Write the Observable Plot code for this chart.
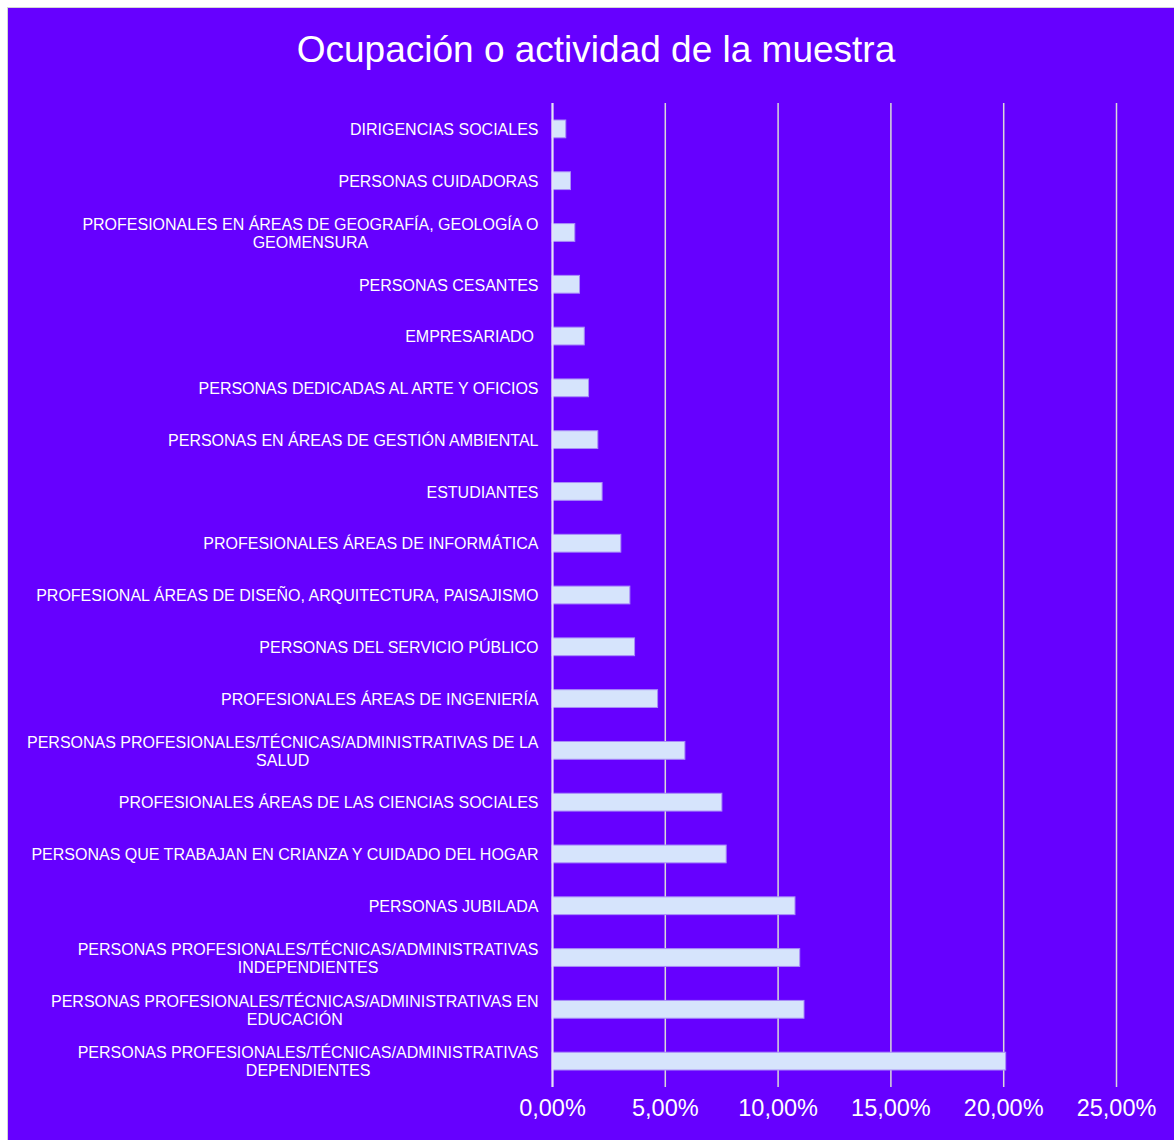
<!DOCTYPE html>
<html><head><meta charset="utf-8">
<script src="https://cdn.jsdelivr.net/npm/d3@7"></script>
<script src="https://cdn.jsdelivr.net/npm/@observablehq/plot@0.6"></script>
<style>
html,body{margin:0;padding:0;background:#fff;width:1174px;height:1140px;overflow:hidden;font-family:"Liberation Sans",Arial,sans-serif;}
#frame{position:absolute;left:7px;top:7px;width:1167px;height:1133px;background:#6600FF;border-left:1px solid #d4d4d4;border-top:1px solid #d4d4d4;box-sizing:border-box;}
#title{position:absolute;left:9px;width:1174px;top:31px;text-align:center;color:#fff;font-size:37px;line-height:37px;white-space:nowrap;}
#chart{position:absolute;left:0;top:80px;}
#chart svg text{white-space:pre;}
</style></head><body>
<div id="frame"></div>
<div id="title">Ocupación o actividad de la muestra</div>
<div id="chart"></div>
<script>
const categories = [
  "DIRIGENCIAS SOCIALES",
  "PERSONAS CUIDADORAS",
  "PROFESIONALES EN ÁREAS DE GEOGRAFÍA, GEOLOGÍA O\nGEOMENSURA",
  "PERSONAS CESANTES",
  "EMPRESARIADO ",
  "PERSONAS DEDICADAS AL ARTE Y OFICIOS",
  "PERSONAS EN ÁREAS DE GESTIÓN AMBIENTAL",
  "ESTUDIANTES",
  "PROFESIONALES ÁREAS DE INFORMÁTICA",
  "PROFESIONAL ÁREAS DE DISEÑO, ARQUITECTURA, PAISAJISMO",
  "PERSONAS DEL SERVICIO PÚBLICO",
  "PROFESIONALES ÁREAS DE INGENIERÍA",
  "PERSONAS PROFESIONALES/TÉCNICAS/ADMINISTRATIVAS DE LA\nSALUD",
  "PROFESIONALES ÁREAS DE LAS CIENCIAS SOCIALES",
  "PERSONAS QUE TRABAJAN EN CRIANZA Y CUIDADO DEL HOGAR",
  "PERSONAS JUBILADA",
  "PERSONAS PROFESIONALES/TÉCNICAS/ADMINISTRATIVAS\nINDEPENDIENTES",
  "PERSONAS PROFESIONALES/TÉCNICAS/ADMINISTRATIVAS EN\nEDUCACIÓN",
  "PERSONAS PROFESIONALES/TÉCNICAS/ADMINISTRATIVAS\nDEPENDIENTES"
];
const values = [0.61, 0.82, 1.01, 1.22, 1.43, 1.62, 2.03, 2.22, 3.05, 3.45, 3.66, 4.68, 5.89, 7.53, 7.72, 10.77, 10.98, 11.17, 20.11];
const tickValues = [0, 5, 10, 15, 20, 25];
const tickLabels = ["0,00%", "5,00%", "10,00%", "15,00%", "20,00%", "25,00%"];

const data = categories.map((c, i) => ({category: c, value: values[i]}));

const chart = Plot.plot({
  width: 1174,
  height: 1060,
  marginLeft: 552,
  marginRight: 58,
  marginTop: 23,
  marginBottom: 53,
  style: {background: "transparent", fontFamily: "'Liberation Sans', Arial, sans-serif", overflow: "visible"},
  x: {domain: [0, 25], axis: null},
  y: {domain: categories, axis: null, padding: 0, round: false},
  marks: [
    Plot.ruleX(tickValues, {stroke: "#d9d9d9", strokeWidth: 1.5}),
    Plot.barX(data, {x: "value", y: "category", insetTop: 17, insetBottom: 17, fill: "#d6e4fc", stroke: "#a98df8", strokeWidth: 1}),
    Plot.ruleX([0], {stroke: "#e6e0f8", strokeWidth: 2}),
    Plot.text(data, {y: "category", text: "category", frameAnchor: "left", dx: -14, textAnchor: "end", lineAnchor: "middle", lineHeight: 1.125, fontSize: 16, fill: "#ffffff"}),
    Plot.text(tickValues, {x: d => d, text: (d, i) => tickLabels[i], frameAnchor: "bottom", dy: 28, fontSize: 23.5, fill: "#ffffff"})
  ]
});
document.getElementById("chart").append(chart);

// Centre the lines of wrapped labels on each other, as in the reference
chart.querySelectorAll("text").forEach(t => {
  const spans = t.querySelectorAll("tspan");
  if (spans.length > 1) {
    const w = Math.max(...Array.from(spans).map(s => s.getComputedTextLength()));
    const base = +(t.getAttribute("x") || 0);
    t.setAttribute("text-anchor", "middle");
    spans.forEach(s => s.setAttribute("x", base - w / 2));
  }
});
</script>
</body></html>
